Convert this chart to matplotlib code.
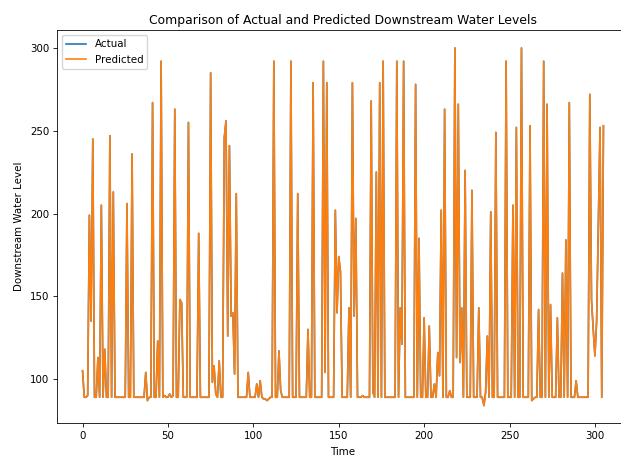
import numpy as np
from matplotlib import pyplot as plt

# downstream water level
actual = [
    105, 89, 89, 90, 199, 135, 245, 89, 89, 113,
    89, 205, 89, 118, 89, 89, 247, 89, 213, 89,
    89, 89, 89, 89, 89, 89, 206, 89, 89, 236,
    89, 89, 89, 89, 89, 89, 89, 104, 87, 89,
    89, 267, 89, 89, 123, 89, 292, 89, 90, 89,
    89, 91, 89, 90, 263, 89, 89, 148, 146, 89,
    89, 89, 255, 89, 89, 89, 89, 89, 188, 89,
    89, 89, 89, 89, 89, 285, 98, 108, 91, 89,
    111, 89, 89, 246, 256, 126, 241, 138, 140, 103,
    212, 89, 89, 89, 89, 89, 89, 104, 89, 89,
    89, 89, 97, 89, 99, 89, 88, 88, 87, 88,
    89, 89, 292, 89, 89, 117, 93, 89, 89, 89,
    89, 89, 292, 89, 89, 89, 212, 89, 89, 89,
    89, 89, 130, 89, 89, 279, 89, 89, 89, 89,
    89, 292, 104, 279, 89, 89, 89, 89, 202, 140,
    174, 165, 89, 89, 89, 89, 143, 89, 279, 138,
    197, 89, 89, 89, 90, 89, 89, 89, 89, 268,
    92, 89, 225, 89, 279, 89, 292, 89, 89, 89,
    89, 89, 89, 89, 292, 89, 143, 121, 292, 89,
    89, 89, 89, 89, 89, 278, 89, 185, 89, 89,
    137, 89, 89, 132, 89, 89, 97, 89, 116, 102,
    202, 89, 263, 89, 89, 93, 89, 89, 300, 113,
    266, 110, 143, 89, 226, 89, 89, 89, 214, 89,
    89, 89, 143, 89, 89, 84, 92, 126, 89, 201,
    89, 89, 249, 89, 89, 89, 89, 89, 292, 89,
    89, 89, 205, 89, 252, 89, 89, 300, 89, 89,
    89, 89, 253, 87, 88, 89, 89, 142, 89, 89,
    292, 89, 266, 89, 145, 89, 89, 89, 137, 89,
    89, 164, 89, 184, 89, 267, 89, 89, 89, 99,
    89, 89, 89, 89, 89, 89, 89, 272, 148, 130,
    114, 135, 195, 252, 89, 253,
]
# the model follows the actual series so closely that the two lines overlap
predicted = list(actual)

time = np.arange(len(actual))

#picture is a scaled down screenshot, so everything is drawn ~0.74 of the default size
s = 0.74
plt.rcParams['font.size'] = 10*s
plt.rcParams['axes.linewidth'] = 0.8*s
plt.rcParams['xtick.major.width'] = 0.8*s
plt.rcParams['ytick.major.width'] = 0.8*s
plt.rcParams['xtick.major.size'] = 3.5*s
plt.rcParams['ytick.major.size'] = 3.5*s
plt.rcParams['xtick.major.pad'] = 3.5*s
plt.rcParams['ytick.major.pad'] = 3.5*s

fig = plt.figure(figsize=(6.21, 4.57), dpi=100)
# right edge of the axes runs past the figure, as in the cropped reference
ax = fig.add_axes([0.091, 0.0735, 0.9227, 0.8606])

ax.plot(time, actual, label='Actual', linewidth=1.6*s)
ax.plot(time, predicted, label='Predicted', linewidth=1.6*s)

ax.set_title('Comparison of Actual and Predicted Downstream Water Levels', fontsize=12*s, pad=6*s)
ax.set_xlabel('Time', labelpad=6*s)
ax.set_ylabel('Downstream Water Level', labelpad=6*s)
ax.legend(loc='upper left')

fig.savefig('out.png', dpi=100)
